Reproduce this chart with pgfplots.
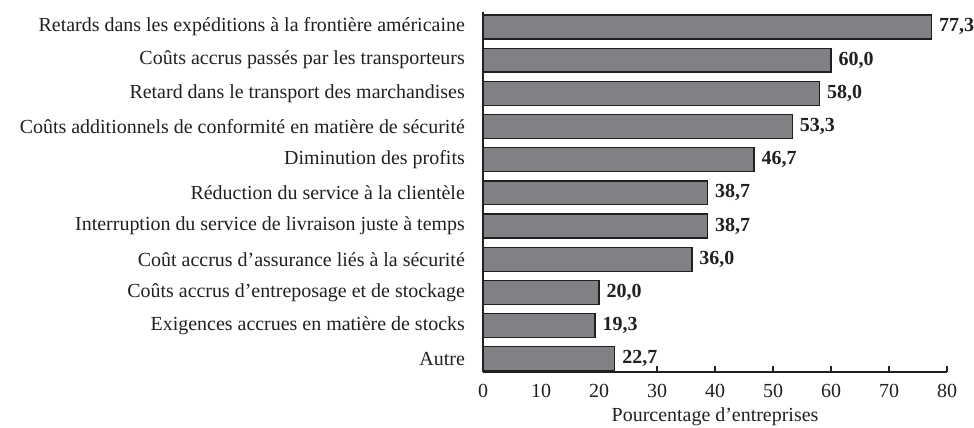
\documentclass[border=0pt]{standalone}
\usepackage{fontspec}
\setmainfont{Liberation Serif}
\usepackage{pgfplots}
\usepackage{pgfplotstable}
\pgfplotsset{compat=1.18}
\definecolor{barfill}{RGB}{128,129,133}
\definecolor{bardraw}{RGB}{35,31,32}
\pgfplotstableread{
y x lab
0 77.3 77,3
1 60.0 60,0
2 58.0 58,0
3 53.3 53,3
4 46.7 46,7
5 38.7 38,7
6 38.7 38,7
7 36.0 36,0
8 20.0 20,0
9 19.3 19,3
10 22.7 22,7
}\data
\begin{document}
\begin{tikzpicture}
\begin{axis}[
  scale only axis, width=465pt, height=361pt,
  xbar, bar width=0.72, bar shift=0pt,
  xmin=0, xmax=80, ymin=-0.45, ymax=10.406, y dir=reverse,
  axis x line*=bottom, axis y line*=left,
  axis line style={line width=1.8pt, -, bardraw},
  /pgf/number format/assume math mode=true,
  xtick={0,10,...,80}, xtick align=inside, major tick length=6pt,
  xtick style={line width=1.8pt, bardraw},
  ytick={0,...,10}, ytick style={draw=none},
  yticklabels={Retards dans les expéditions à la frontière américaine,
    Coûts accrus passés par les transporteurs,
    Retard dans le transport des marchandises,
    Coûts additionnels de conformité en matière de sécurité,
    Diminution des profits,
    Réduction du service à la clientèle,
    Interruption du service de livraison juste à temps,
    Coût accrus d’assurance liés à la sécurité,
    Coûts accrus d’entreposage et de stockage,
    Exigences accrues en matière de stocks,
    Autre},
  ticklabel style={font=\fontsize{20}{24}\selectfont, text=bardraw},
  yticklabel style={inner xsep=0pt, xshift=-12pt},
  xticklabel style={inner sep=0pt, anchor=base, yshift=-25pt},
  xlabel={Pourcentage d’entreprises},
  xlabel style={font=\fontsize{20}{24}\selectfont, text=bardraw, at={(axis description cs:0.5,0)}, anchor=base, inner sep=0pt, yshift=-49pt},
  nodes near coords={\pgfplotspointmeta},
  point meta=explicit symbolic,
  nodes near coords style={font=\fontsize{20}{24}\selectfont\bfseries, text=bardraw, anchor=west, inner sep=0pt, xshift=7pt},
]
\addplot[fill=barfill, draw=bardraw, line width=1.3pt] table[x=x, y=y, meta=lab] {\data};
\coordinate (O) at (axis cs:0,10.406);
\end{axis}
\path (O) ++(-484pt,-55pt) rectangle ++(974pt,428pt);
\end{tikzpicture}
\end{document}
